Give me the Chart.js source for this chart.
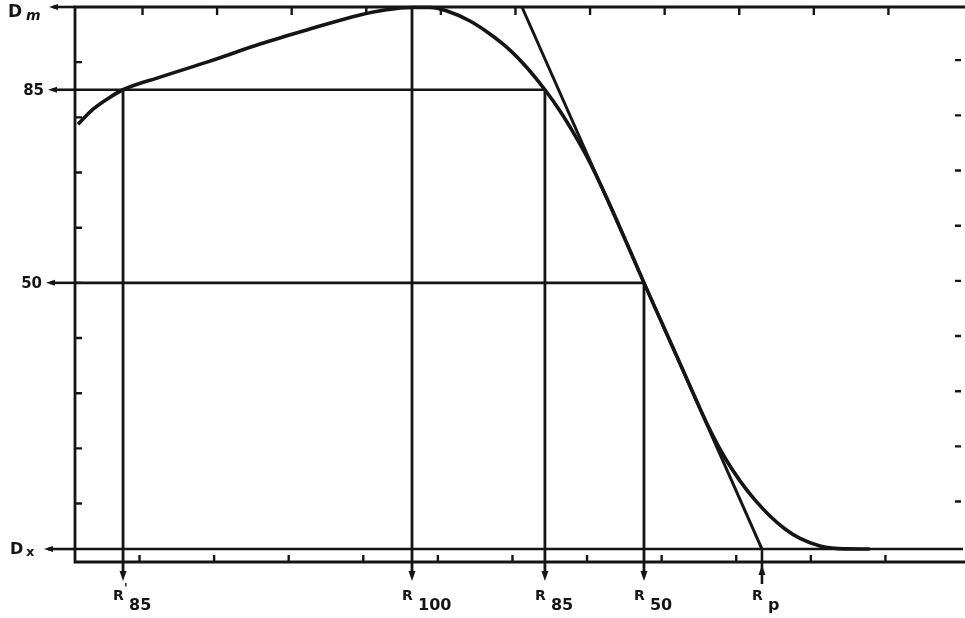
<!DOCTYPE html>
<html><head><meta charset="utf-8">
<script src="https://cdn.jsdelivr.net/npm/chart.js@4"></script>
<style>html,body{margin:0;padding:0;background:#fff}#wrap{width:965px;height:618px;position:relative}</style>
</head><body><div id="wrap"><canvas id="c" width="965" height="618"></canvas></div>
<script>
// ---- data ----
const curveX = [0.176,0.377,0.605,0.779,1.275,1.945,2.615,3.285,3.955,4.290,4.653,4.894,5.122,5.430,5.698,5.966,6.207,6.435,6.637,6.838,7.039,7.240,7.441,7.602,7.763,7.977,8.205,8.420,8.647,8.848,9.050,9.250,9.452,9.654,9.855,10.123,10.458,10.790];
const curveY = [78.75,81.48,83.66,85.0,87.29,90.19,93.28,96.0,98.55,99.45,99.9,99.9,99.27,97.46,95.1,92.19,88.8,85.0,81.16,76.74,71.8,66.1,60.05,55.06,50.0,43.53,36.63,30.09,23.37,18.29,14.11,10.66,7.75,5.39,3.67,2.31,1.78,1.75];
const tangentX = [6.127, 9.345];
const tangentY = [100, 1.75];
const levelNames = ["Dm", "85", "50", "Dx"];
const levelY = [100, 85, 50, 1.75];
const markerNames = ["R'85", "R100", "R85", "R50", "Rp"];
const markerX = [0.779, 4.653, 6.435, 7.763, 9.345];
const markerTop = [85, 100, 85, 50, 1.75];
const xTicks = [1,2,3,4,5,6,7,8,9,10,11];
const yTicks = [10,20,30,40,50,60,70,80,90];
const xMin = 0.135, xMax = 12.04, yMin = -0.6, yMax = 100;
const belowAxis = -3.0;

const INK = '#151515';
const FONT = '"DejaVu Sans", "Liberation Sans", sans-serif';

function lineDS(xs, ys, w){
  return {data: xs.map((v,i)=>({x:v,y:ys[i]})), showLine:true, borderColor:INK, borderWidth:w, pointRadius:0, clip:false, tension:0};
}
const datasets = [];
datasets.push(Object.assign(lineDS(curveX, curveY, 3.6), {cubicInterpolationMode:'monotone'}));
datasets.push(lineDS(tangentX, tangentY, 3));
// level guides
datasets.push(lineDS([xMin, markerX[2]], [levelY[1], levelY[1]], 2.6));
datasets.push(lineDS([xMin, markerX[3]], [levelY[2], levelY[2]], 2.6));
datasets.push(lineDS([xMin, xMax], [levelY[3], levelY[3]], 2.6));
// verticals down to the marker arrows
for (let i=0;i<4;i++) datasets.push(lineDS([markerX[i], markerX[i]], [markerTop[i], belowAxis], 2.8));

function tri(ctx, x, tipY, dir, w, h){
  ctx.beginPath();
  ctx.moveTo(x, tipY);
  ctx.lineTo(x - w/2, tipY - dir*h);
  ctx.lineTo(x + w/2, tipY - dir*h);
  ctx.closePath(); ctx.fill();
}
function triH(ctx, tipX, y, w, h){
  ctx.beginPath();
  ctx.moveTo(tipX, y);
  ctx.lineTo(tipX + h, y - w/2);
  ctx.lineTo(tipX + h, y + w/2);
  ctx.closePath(); ctx.fill();
}

const framePlugin = {
  id:'frame',
  beforeDatasetsDraw(chart){
    const {ctx, scales:{x,y}} = chart;
    const yb = y.getPixelForValue(yMin), yt = y.getPixelForValue(yMax), xl = x.getPixelForValue(xMin);
    const xr = x.getPixelForValue(xMax);
    ctx.save();
    ctx.strokeStyle = INK; ctx.lineWidth = 2.8;
    ctx.beginPath();
    ctx.moveTo(chart.width, yt); ctx.lineTo(xl, yt); ctx.lineTo(xl, yb); ctx.lineTo(chart.width, yb);
    ctx.stroke();
    ctx.lineWidth = 2.4;
    ctx.beginPath();
    xTicks.forEach(v=>{ const p = x.getPixelForValue(v);
      ctx.moveTo(p, yb); ctx.lineTo(p, yb-7);
      ctx.moveTo(p+3, yt); ctx.lineTo(p+3, yt+8); });
    yTicks.forEach(v=>{ const p = y.getPixelForValue(v);
      ctx.moveTo(xl, p); ctx.lineTo(xl+7, p);
      ctx.moveTo(xr-2, p-2); ctx.lineTo(xr-8, p-2); });
    ctx.stroke();
    ctx.restore();
  },
  afterDraw(chart){
    const {ctx, scales:{x,y}} = chart;
    const xl = x.getPixelForValue(xMin), yb = y.getPixelForValue(yMin);
    ctx.save();
    ctx.fillStyle = INK; ctx.strokeStyle = INK;
    // level arrows + labels
    const arrowLen = [26, 27, 29, 31];
    levelNames.forEach((n,i)=>{
      const py = y.getPixelForValue(levelY[i]);
      const tip = xl - arrowLen[i];
      ctx.lineWidth = 2.6;
      ctx.beginPath(); ctx.moveTo(tip+4, py); ctx.lineTo(xl, py); ctx.stroke();
      triH(ctx, tip, py, 6, 9);
      ctx.textBaseline = 'alphabetic';
      if (n === 'Dm'){
        ctx.font = 'bold 17px ' + FONT; ctx.textAlign = 'left';
        ctx.fillText('D', 8, py + 10);
        ctx.font = 'italic bold 14px ' + FONT;
        ctx.fillText('m', 26, py + 13);
      } else if (n === 'Dx'){
        ctx.font = 'bold 16px ' + FONT; ctx.textAlign = 'left';
        ctx.fillText('D', 10, py + 5);
        ctx.font = 'bold 13px ' + FONT;
        ctx.fillText('x', 26, py + 7);
      } else {
        ctx.font = 'bold 15px ' + FONT; ctx.textAlign = 'right';
        ctx.fillText(n, tip - 4, py + 5);
      }
    });
    // marker arrows + labels
    markerNames.forEach((n,i)=>{
      const px = x.getPixelForValue(markerX[i]);
      if (i < 4){
        tri(ctx, px, yb + 19, 1, 7, 10);
      } else {
        ctx.lineWidth = 2.6;
        ctx.beginPath(); ctx.moveTo(px, y.getPixelForValue(markerTop[i])); ctx.lineTo(px, yb + 22); ctx.stroke();
        tri(ctx, px, yb + 3, -1, 7, 10);
      }
      ctx.textAlign = 'left'; ctx.textBaseline = 'alphabetic';
      ctx.font = 'bold 14px ' + FONT;
      ctx.fillText('R', px - 10, yb + 38);
      let sub = n.slice(1);
      if (sub.startsWith("'")){ ctx.font = 'bold 12px ' + FONT; ctx.fillText("'", px + 1, yb + 30); sub = sub.slice(1); }
      ctx.font = 'bold 16px ' + FONT;
      ctx.fillText(sub, px + 6, yb + 48);
    });
    ctx.restore();
  }
};

new Chart(document.getElementById('c'), {
  type: 'scatter',
  data: { datasets },
  options: {
    responsive: false, animation: false, devicePixelRatio: 1,
    layout: { padding: { left: 75, top: 7, right: 2, bottom: 56 } },
    plugins: { legend: { display: false }, tooltip: { enabled: false } },
    scales: {
      x: { type: 'linear', min: xMin, max: xMax, display: false },
      y: { type: 'linear', min: yMin, max: yMax, display: false }
    }
  },
  plugins: [framePlugin]
});
</script>
</body></html>
